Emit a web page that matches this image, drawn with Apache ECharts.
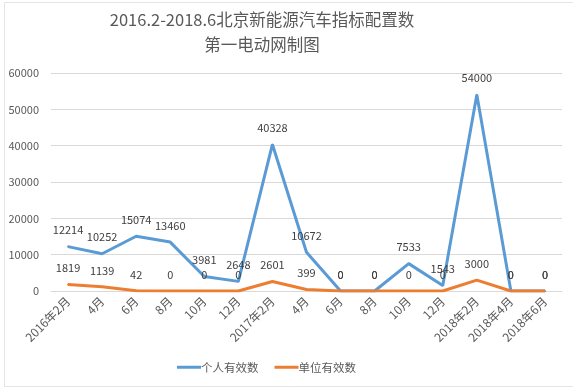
<!DOCTYPE html>
<html>
<head>
<meta charset="utf-8">
<script src="https://cdn.jsdelivr.net/npm/echarts@6/dist/echarts.min.js"></script>
<style>
html,body{margin:0;padding:0;background:#fff;}
#c{width:573px;height:388px;}
</style>
</head>
<body>
<div id="c"></div>
<script>
var categories = ['2016年2月','4月','6月','8月','10月','12月','2017年2月','4月','6月','8月','10月','12月','2018年2月','2018年4月','2018年6月'];
var personal = [12214, 10252, 15074, 13460, 3981, 2648, 40328, 10672, 0, 0, 7533, 1543, 54000, 0, 0];
var unit = [1819, 1139, 42, 0, 0, 0, 2601, 399, 0, 0, 0, 0, 3000, 0, 0];
var seriesNames = ['个人有效数', '单位有效数'];
var yTicks = {min: 0, max: 60000, interval: 10000};

var font = '"Noto Sans CJK SC", "Noto Sans", sans-serif';
var chart = echarts.init(document.getElementById('c'), null, {renderer: 'canvas'});
chart.setOption({
  animation: false,
  backgroundColor: '#ffffff',
  color: ['#5B9BD5', '#ED7D31'],
  graphic: [{
    type: 'rect', silent: true, z: -1,
    shape: {x: 4.5, y: 2.5, width: 580, height: 384},
    style: {fill: 'none', stroke: '#E4E4E4', lineWidth: 1}
  }],
  title: {
    text: '2016.2-2018.6北京新能源汽车指标配置数\n第一电动网制图',
    left: 257,
    textAlign: 'center',
    top: 2,
    textStyle: {fontFamily: font, fontSize: 16.5, fontWeight: 'normal', color: '#595959', lineHeight: 25}
  },
  grid: {left: 51, right: 11, top: 73, bottom: 97, containLabel: false},
  legend: {
    bottom: 10,
    left: 172,
    itemWidth: 24,
    itemHeight: 3,
    itemGap: 16,
    icon: 'rect',
    textStyle: {fontFamily: font, fontSize: 11.5, color: '#595959', padding: [0,0,0,-5]},
    data: seriesNames
  },
  xAxis: {
    type: 'category',
    data: categories,
    boundaryGap: true,
    axisLine: {lineStyle: {color: '#D9D9D9', width: 1}},
    axisTick: {show: false},
    axisLabel: {rotate: 45, fontFamily: font, fontSize: 12, color: '#595959', margin: 8, interval: 0}
  },
  yAxis: {
    type: 'value',
    min: yTicks.min, max: yTicks.max, interval: yTicks.interval,
    axisLine: {show: false},
    axisTick: {show: false},
    splitLine: {lineStyle: {color: '#D9D9D9', width: 1}},
    axisLabel: {fontFamily: font, fontSize: 11, color: '#595959', margin: 12, formatter: function (v) { return String(v); }}
  },
  series: [
    {
      name: seriesNames[0], type: 'line', data: personal,
      symbol: 'circle', symbolSize: 2,
      lineStyle: {width: 3},
      label: {show: true, position: 'top', distance: 10, fontFamily: font, fontSize: 11, color: '#404040'}
    },
    {
      name: seriesNames[1], type: 'line', data: unit,
      symbol: 'circle', symbolSize: 2,
      lineStyle: {width: 3},
      label: {show: true, position: 'top', distance: 10, fontFamily: font, fontSize: 11, color: '#404040'}
    }
  ]
});
</script>
</body>
</html>
